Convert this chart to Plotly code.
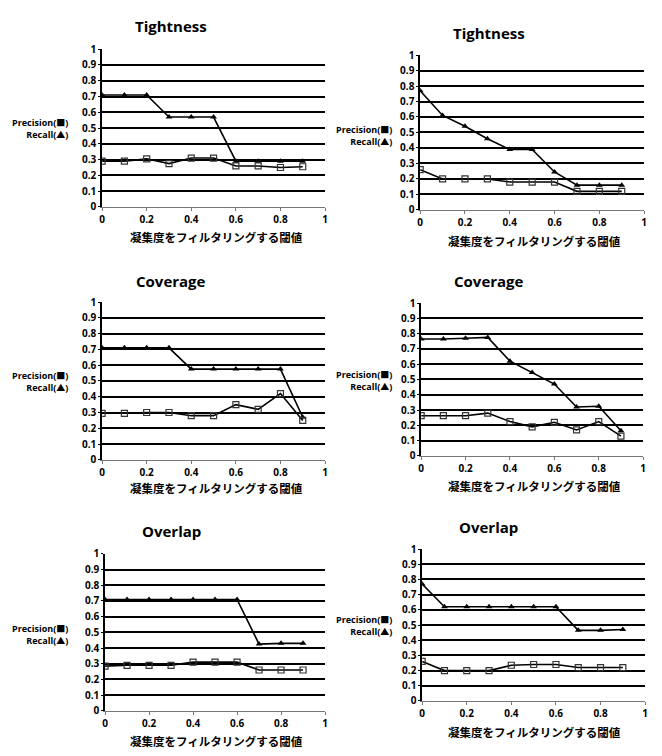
import plotly.graph_objects as go

W, H = 662, 756

thresholds = [0, 0.1, 0.2, 0.3, 0.4, 0.5, 0.6, 0.7, 0.8, 0.9]

titles = ["Tightness", "Tightness", "Coverage", "Coverage", "Overlap", "Overlap"]

tight_l_recall = [0.71, 0.71, 0.71, 0.57, 0.57, 0.57, 0.29, 0.29, 0.29, 0.29]
tight_l_prec = [0.29, 0.29, 0.305, 0.275, 0.31, 0.31, 0.26, 0.26, 0.25, 0.255]

tight_r_recall = [0.77, 0.61, 0.54, 0.46, 0.39, 0.39, 0.245, 0.16, 0.16, 0.16]
tight_r_prec = [0.26, 0.20, 0.20, 0.20, 0.18, 0.18, 0.18, 0.12, 0.12, 0.12]

cov_l_recall = [0.71, 0.71, 0.71, 0.71, 0.575, 0.575, 0.575, 0.575, 0.575, 0.27]
cov_l_prec = [0.295, 0.295, 0.30, 0.30, 0.28, 0.28, 0.35, 0.32, 0.42, 0.25]

cov_r_recall = [0.765, 0.765, 0.77, 0.775, 0.62, 0.545, 0.47, 0.32, 0.325, 0.165]
cov_r_prec = [0.263, 0.263, 0.263, 0.28, 0.225, 0.19, 0.22, 0.17, 0.225, 0.13]

ovl_l_recall = [0.71, 0.71, 0.71, 0.71, 0.71, 0.71, 0.71, 0.425, 0.43, 0.43]
ovl_l_prec = [0.285, 0.29, 0.29, 0.29, 0.31, 0.31, 0.31, 0.26, 0.26, 0.26]

ovl_r_recall = [0.77, 0.62, 0.62, 0.62, 0.62, 0.62, 0.62, 0.465, 0.465, 0.47]
ovl_r_prec = [0.26, 0.20, 0.20, 0.20, 0.235, 0.24, 0.24, 0.22, 0.22, 0.22]

recalls = [tight_l_recall, tight_r_recall, cov_l_recall, cov_r_recall, ovl_l_recall, ovl_r_recall]
precs = [tight_l_prec, tight_r_prec, cov_l_prec, cov_r_prec, ovl_l_prec, ovl_r_prec]

y_ticks = [0, 0.1, 0.2, 0.3, 0.4, 0.5, 0.6, 0.7, 0.8, 0.9, 1]
y_ticklabels = ["0", "0.1", "0.2", "0.3", "0.4", "0.5", "0.6", "0.7", "0.8", "0.9", "1"]
x_ticks = [0, 0.2, 0.4, 0.6, 0.8, 1]
x_ticklabels = ["0", "0.2", "0.4", "0.6", "0.8", "1"]

ylabel = "Precision(■)<br>Recall(▲)"
xlabel = "凝集度をフィルタリングする閾値"

# plot boxes in pixels: (left, right, top, bottom)
boxes = [
    (100, 325, 42, 203),
    (421, 647, 48, 206),
    (100, 325, 300, 461),
    (422, 646, 301, 457),
    (103, 325, 557, 717),
    (423, 648, 552, 707),
]
# title centres (x, y), ylabel (right x, centre y), xlabel centre (x, y)
title_pos = [(170, 18), (490, 25), (170, 279), (490, 279), (170, 534), (490, 529)]
ylab_pos = [(68, 123), (395, 130), (68, 381), (395, 380), (68, 639), (395, 630)]
xlab_pos = [(215, 234), (536, 238), (215, 490), (536, 488), (215, 748), (536, 739)]

def px(x):
    return x / W

def py(y):
    return 1 - y / H

fig = go.Figure()
annotations = []
bold_font = "'Open Sans', 'Noto Sans CJK JP', sans-serif"
cjk_font = "'Noto Sans CJK JP', sans-serif"

for i in range(6):
    n = "" if i == 0 else str(i + 1)
    xa, ya = "x" + n, "y" + n
    l, r, t, b = boxes[i]
    fig.add_trace(go.Scatter(
        x=thresholds, y=recalls[i], mode="lines+markers", xaxis=xa, yaxis=ya,
        line=dict(color="black", width=1.6),
        marker=dict(symbol="triangle-up", size=6, color="black"),
        showlegend=False))
    fig.add_trace(go.Scatter(
        x=thresholds, y=precs[i], mode="lines+markers", xaxis=xa, yaxis=ya,
        line=dict(color="black", width=1.6),
        marker=dict(symbol="square-open", size=6, color="#333333", line=dict(width=1.2)),
        showlegend=False))
    tickfont = dict(family=bold_font, size=10, color="black", weight="bold")
    fig.layout["xaxis" + n] = dict(
        domain=[px(l), px(r)], anchor=ya, range=[0, 1],
        tickvals=x_ticks, ticktext=x_ticklabels, showgrid=False, zeroline=False,
        showline=True, linecolor="#777777", linewidth=1,
        ticks="outside", ticklen=3, tickcolor="#777777", tickfont=tickfont)
    fig.layout["yaxis" + n] = dict(
        domain=[py(b), py(t)], anchor=xa, range=[0, 1],
        tickvals=y_ticks, ticktext=y_ticklabels, showgrid=True,
        gridcolor="black", gridwidth=1.6, zeroline=False,
        showline=True, linecolor="black", linewidth=1.6,
        ticks="outside", ticklen=2, tickcolor="black", tickfont=tickfont)
    tx, ty = title_pos[i]
    annotations.append(dict(text="<b>" + titles[i] + "</b>", x=px(tx), y=py(ty),
                            xref="paper", yref="paper", showarrow=False,
                            xanchor="center", yanchor="middle",
                            font=dict(family=bold_font, size=15, color="black")))
    lx, ly = ylab_pos[i]
    annotations.append(dict(text="<b>" + ylabel + "</b>", x=px(lx), y=py(ly),
                            xref="paper", yref="paper", showarrow=False,
                            xanchor="right", yanchor="middle", align="right",
                            font=dict(family=bold_font, size=9, color="black")))
    bx, by = xlab_pos[i]
    annotations.append(dict(text="<b>" + xlabel + "</b>", x=px(bx), y=py(by),
                            xref="paper", yref="paper", showarrow=False,
                            xanchor="center", yanchor="middle",
                            font=dict(family=cjk_font, size=11.5, color="black")))

fig.update_layout(
    width=W, height=H, margin=dict(l=0, r=0, t=0, b=0),
    paper_bgcolor="white", plot_bgcolor="white",
    annotations=annotations,
)

fig.write_html("out.html")
